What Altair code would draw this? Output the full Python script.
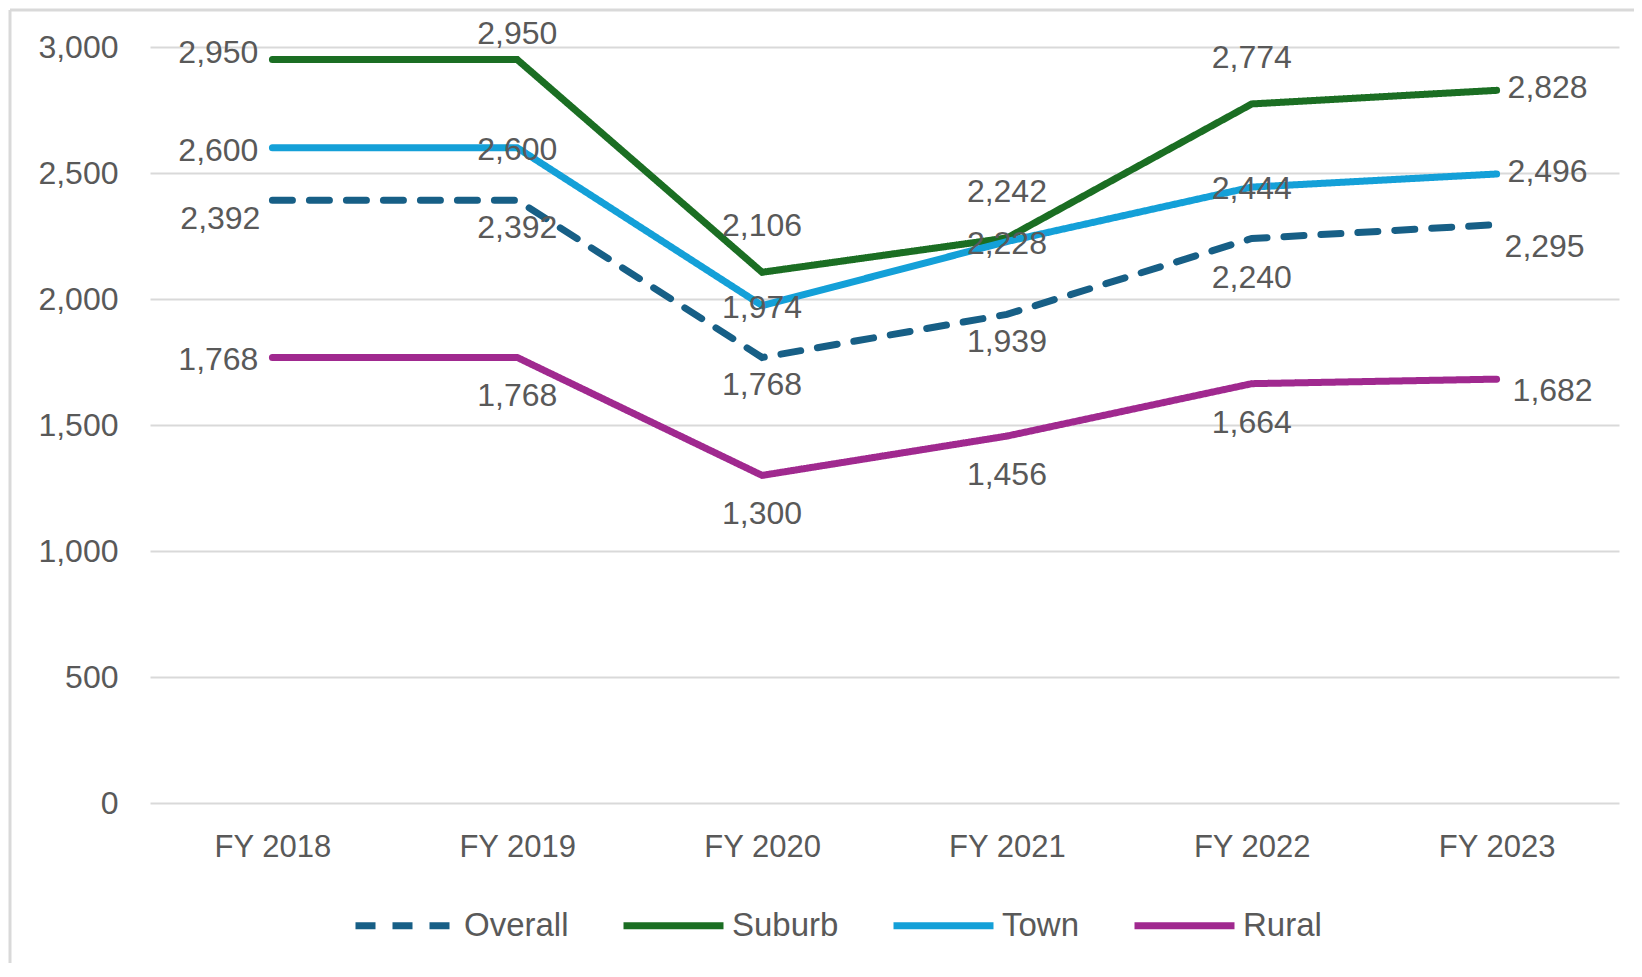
import altair as alt
import pandas as pd

# ---- data ----
years = ["FY 2018", "FY 2019", "FY 2020", "FY 2021", "FY 2022", "FY 2023"]
series_names = ["Overall", "Suburb", "Town", "Rural"]
overall = [2392, 2392, 1768, 1939, 2240, 2295]
suburb = [2950, 2950, 2106, 2242, 2774, 2828]
town = [2600, 2600, 1974, 2228, 2444, 2496]
rural = [1768, 1768, 1300, 1456, 1664, 1682]
y_ticks = [0, 500, 1000, 1500, 2000, 2500, 3000]

# where each data label sits relative to its point (Excel-like placement)
label_place = {
    "Overall": ["left_lo", "below", "below", "below", "below_far", "right_lo"],
    "Suburb": ["left_hi", "top", "above", "above", "above", "right"],
    "Town": ["left", "center", "center", "center", "center", "right"],
    "Rural": ["left", "below_far", "below_far", "below_far", "below_far", "right_mid"],
}
PLACE = {
    "left": (-14, 3, "right"),
    "left_hi": (-14, -7, "right"),
    "left_lo": (-12, 19, "right"),
    "top": (0, -26, "center"),
    "above": (0, -46, "center"),
    "center": (0, 2, "center"),
    "below": (0, 28, "center"),
    "below_far": (0, 39, "center"),
    "right": (11, -2, "left"),
    "right_mid": (16, 12, "left"),
    "right_lo": (8, 22, "left"),
}

colors = ["#175f86", "#1b6e23", "#14a0d8", "#a0298f"]
dashes = [[20, 17], [1, 0], [1, 0], [1, 0]]

values = {"Overall": overall, "Suburb": suburb, "Town": town, "Rural": rural}
rows = []
for s in series_names:
    for i, yr in enumerate(years):
        rows.append({"year": yr, "series": s, "value": values[s][i],
                     "place": label_place[s][i]})
df = pd.DataFrame(rows)

FONT = "Liberation Sans"
TXT = "#595959"
W, H = 1469, 756

x_enc = alt.X("year:N", sort=years, scale=alt.Scale(type="point", padding=0.5),
              axis=alt.Axis(title=None, labelAngle=0, ticks=False, domain=False, grid=False,
                            labelFont=FONT, labelFontSize=31, labelColor=TXT, labelPadding=29))
y_enc = alt.Y("value:Q", scale=alt.Scale(domain=[0, 3000], nice=False),
              axis=alt.Axis(title=None, values=y_ticks, format=",d", ticks=False, domain=False,
                            gridColor="#d9d9d9", gridWidth=2, labelFont=FONT, labelFontSize=32,
                            labelColor=TXT, labelPadding=32))

legend_cfg = dict(title=None, orient="none", direction="horizontal",
                  legendX=202, legendY=825,
                  symbolType="stroke", symbolSize=10000,
                  symbolStrokeWidth=7, labelFont=FONT,
                  labelFontSize=33, labelColor=TXT, labelOffset=5,
                  columnPadding=40, padding=0)

base = alt.Chart(df)

lines = base.mark_line(strokeWidth=7, strokeCap="round").encode(
    x=x_enc,
    y=y_enc,
    color=alt.Color("series:N", sort=series_names,
                    scale=alt.Scale(domain=series_names, range=colors),
                    legend=alt.Legend(**legend_cfg)),
    strokeDash=alt.StrokeDash("series:N", sort=series_names,
                              scale=alt.Scale(domain=series_names, range=dashes),
                              legend=alt.Legend(**legend_cfg)),
)

label_layers = []
for code, (dx, dy, align) in PLACE.items():
    label_layers.append(
        base.transform_filter(alt.datum.place == code)
        .mark_text(dx=dx, dy=dy, align=align, baseline="middle", font=FONT,
                   fontSize=32, color=TXT)
        .encode(x=x_enc, y=y_enc,
                text=alt.Text("value:Q", format=","))
    )

frame_df = pd.DataFrame({"k": [0]})
frame_left = alt.Chart(frame_df).mark_rule(color="#d9d9d9", strokeWidth=3).encode(
    x=alt.value(-140), y=alt.value(-37), y2=alt.value(1000))
frame_top = alt.Chart(frame_df).mark_rule(color="#d9d9d9", strokeWidth=3).encode(
    x=alt.value(-140), x2=alt.value(1600), y=alt.value(-37))

chart = alt.layer(frame_left, frame_top, lines, *label_layers).properties(
    width=W, height=H,
    autosize=alt.AutoSizeParams(type="none"),
    padding={"left": 142, "top": 39, "right": 15, "bottom": 160},
).configure_view(stroke=None)

chart.save("out.html", embed_options={"renderer": "svg", "actions": False})
